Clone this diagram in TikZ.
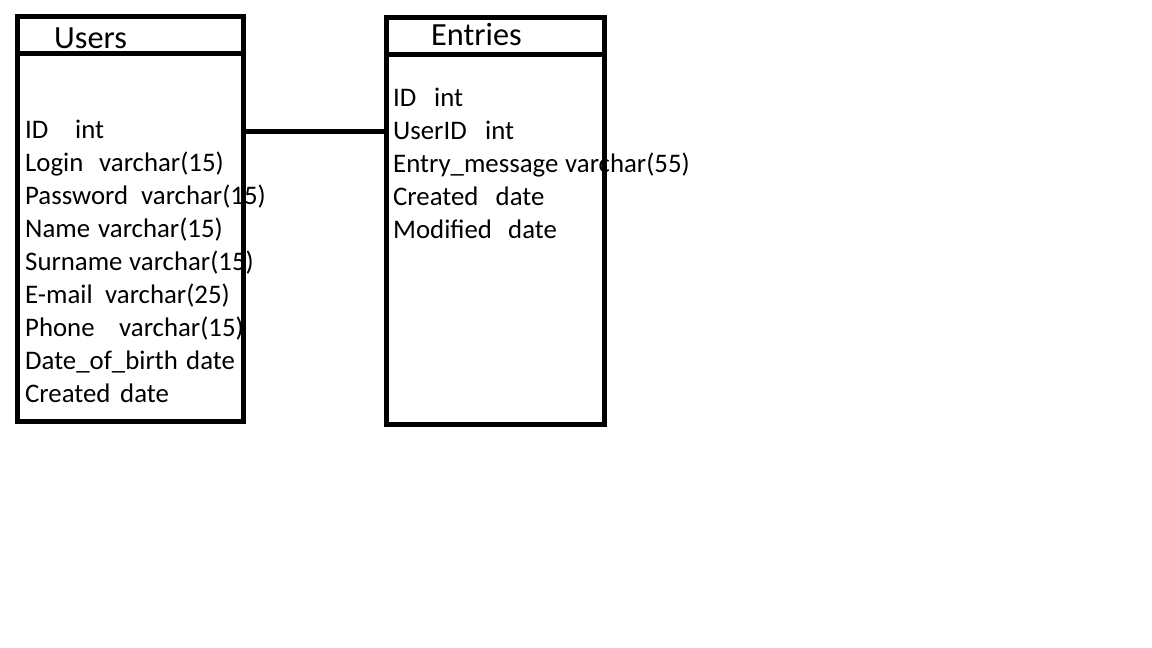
\documentclass[tikz,border=0pt]{standalone}
\usepackage{fontspec}
\setmainfont{Carlito}
\newcommand{\bodyfnt}{\fontsize{26.8}{33}\selectfont}
\newcommand{\headfnt}{\fontsize{32.3}{36}\selectfont}
\begin{document}
\begin{tikzpicture}[x=1pt,y=-1pt,
  cell/.style={anchor=base west, inner sep=0pt, font=\bodyfnt},
  head/.style={anchor=base west, inner sep=0pt, font=\headfnt},
  tablebox/.style={draw=black, line width=5pt, rectangle, inner sep=0pt, outer sep=0pt, anchor=north west},
  rule/.style={draw=black, line width=5pt},
  conn/.style={draw=black, line width=5pt}]
\useasboundingbox (0,0) rectangle (1152,648);
\fill[white] (0,0) rectangle (1152,648);
% Users texts
\node[head] (uh) at (54,48.3) {Users};
\node[cell] (u1a) at (25,138) {ID};            \node[cell] (u1b) at (75,138) {int};
\node[cell] (u2a) at (25,171) {Login};         \node[cell] (u2b) at (99,171) {varchar(15)};
\node[cell] (u3a) at (25,204) {Password};      \node[cell] (u3b) at (141,204) {varchar(15)};
\node[cell] (u4a) at (25,237) {Name};          \node[cell] (u4b) at (98,237) {varchar(15)};
\node[cell] (u5a) at (25,270) {Surname};       \node[cell] (u5b) at (129,270) {varchar(15)};
\node[cell] (u6a) at (25,303) {E-mail};        \node[cell] (u6b) at (105,303) {varchar(25)};
\node[cell] (u7a) at (25,336) {Phone};         \node[cell] (u7b) at (119,336) {varchar(15)};
\node[cell] (u8a) at (25,369) {Date\_of\_birth}; \node[cell] (u8b) at (186,369) {date};
\node[cell] (u9a) at (25,402) {Created};       \node[cell] (u9b) at (120,402) {date};
% Entries texts
\node[head] (eh) at (431,45) {Entries};
\node[cell] (e1a) at (393,106) {ID};             \node[cell] (e1b) at (434,106) {int};
\node[cell] (e2a) at (393,139) {UserID};         \node[cell] (e2b) at (485,139) {int};
\node[cell] (e3a) at (393,172.5) {Entry\_message}; \node[cell] (e3b) at (565,172.5) {varchar(55)};
\node[cell] (e4a) at (393,205) {Created};        \node[cell] (e4b) at (495.5,205) {date};
\node[cell] (e5a) at (393,238) {Modified};       \node[cell] (e5b) at (508,238) {date};
% boxes
\node[tablebox, minimum width=226pt, minimum height=404.5pt] (users) at (17.5,16.5) {};
\node[tablebox, minimum width=218pt, minimum height=406.5pt] (entries) at (386.5,17.5) {};
% header rules
\draw[rule] ([yshift=-36.5pt]users.north west) -- ([yshift=-36.5pt]users.north east);
\draw[rule] ([yshift=-36.5pt]entries.north west) -- ([yshift=-36.5pt]entries.north east);
% connector
\coordinate (lk) at (0,131.5);
\draw[conn] (users.east |- lk) -- (entries.west |- lk);
\end{tikzpicture}
\end{document}
